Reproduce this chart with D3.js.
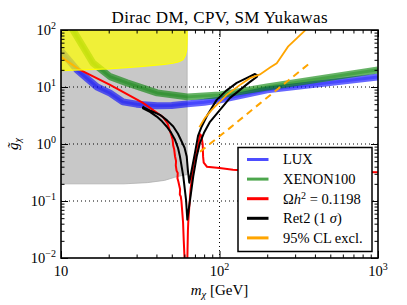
<!DOCTYPE html>
<html>
<head>
<meta charset="utf-8">
<script src="https://cdn.jsdelivr.net/npm/d3@7"></script>
<style>
body { margin: 0; background: #fff; }
</style>
</head>
<body>
<svg id="chart" width="407" height="305"></svg>
<script>
'use strict';

/* global d3 */

// excluded by invisible Higgs width (grey) and by direct searches (yellow)
var greyMass = [10, 25, 35, 45, 52, 58, 62.5];
var greyLow = [0.2, 0.2, 0.21, 0.23, 0.26, 0.28, 0.29];

var yellowMass = [10, 20, 31.5, 45, 50.9, 55, 58.8, 61, 62.1, 62.4, 62.5];
var yellowLow = [19.4, 20.8, 22.8, 25, 26.1, 27.5, 30, 36, 45, 60, 100];

// LUX limit
var luxMass = [10, 12.6, 16.9, 20.4, 24.6, 30, 40.4, 50, 62.6, 80, 100.7, 199.6, 1000];
var luxG = [43, 20, 10.0, 7.8, 5.48, 5.0, 4.67, 4.75, 5.06, 5.4, 5.94, 8.9, 15.0];

// XENON100 limit
var xenonMass = [11.0, 11.9, 15.9, 20.4, 26.1, 40.4, 62.6, 100.7, 199.6, 1000];
var xenonG = [150, 100, 26.4, 15.2, 11.8, 7.88, 6.71, 7.27, 10.0, 20.0];

// relic density
var relicMass = [10, 13.2, 20.4, 32.9, 43.9, 47, 49.9, 50.6, 51, 51.8, 52.4, 53.2, 53.0, 53.6, 54.5, 54.3,
	55, 56.4, 56.2, 57, 57.5, 58.2, 58.9, 59.5, 60.4, 62.6, 63.2, 63.5, 64.5, 65.7, 67, 68.4, 70, 71.8, 73.5,
	75.5, 77, 78.3, 78.8, 79.5, 83.3, 100, 121.5, 150, 1000];
var relicG = [33.7, 19.9, 10.9, 5.27, 2.99, 2.3, 1.37, 1.2, 0.95, 0.8, 0.61, 0.5, 0.42, 0.34, 0.31, 0.25,
	0.22, 0.16, 0.13, 0.12, 0.1, 0.065, 0.042, 0.02, 0.008, 0.008, 0.03, 0.042, 0.08, 0.16, 0.26, 0.41, 0.55,
	0.71, 1.0, 1.47, 1.4, 1.0, 0.6, 0.47, 0.40, 0.38, 0.355, 0.34, 0.32];

// Ret2 1 sigma contour (closed loop)
var ret2Mass = [32.9, 32.9, 36.4, 40.2, 43.4, 46.4, 49.4, 52.4, 54.7, 56.3, 59.1, 61.5, 62.65,
	65.2, 68.3, 71.8, 75.3, 79.8, 87.1, 100.7, 116.5, 134.7, 155.7, 171.7, 173.7,
	167.5, 149.1, 128.4, 109.9, 96.0, 83.4, 77.2, 73.2, 70.0, 66.8, 64.5,
	63.3, 62.1, 60.2, 57.7, 54.7, 51.1, 46.7, 42.1, 36.4, 33.2, 32.9];
var ret2G = [4.57, 4.22, 3.66, 3.03, 2.50, 2.03, 1.60, 1.185, 0.858, 0.604, 0.270, 0.105, 0.047,
	0.105, 0.270, 0.604, 1.05, 1.57, 2.45, 3.97, 6.44, 8.90, 12.3, 15.0, 16.0,
	16.9, 14.4, 11.8, 8.55, 5.94, 3.12, 2.03, 1.39, 0.70, 0.353, 0.209,
	0.326, 0.604, 0.858, 1.106, 1.51, 2.03, 2.60, 3.25, 3.89, 4.39, 4.57];

// 95% CL exclusion, solid and dashed
var exclMass = [74.6, 81.0, 89.3, 111.1, 134.7, 155.7, 180.1, 208.3, 229.6, 246.9, 270.5, 306.9, 346.2, 352];
var exclG = [1.977, 2.88, 3.97, 7.27, 10.9, 14.3, 16.6, 22.0, 26.1, 35.1, 51.0, 71.5, 98.0, 110];
var exclDashMass = [75.3, 116.5, 180.1, 372.4];
var exclDashG = [0.73, 1.92, 5.16, 26.4];

var xMajor = [10, 100, 1000];
var xLabelExp = [null, '2', '3'];
var yMajor = [0.01, 0.1, 1, 10, 100];
var yLabelExp = ['\u22122', '\u22121', '0', '1', '2'];

var legendNames = ['LUX', 'XENON100', 'relic', 'ret2', 'excl'];

var serif = 'Liberation Serif';

function zip(a, b) {
	return a.map(function (d, i) {
		return [d, b[i]];
	});
}

function minorTicks(lo, hi) {
	var out = [];
	for (var dec = lo; dec < hi; dec *= 10) {
		for (var k = 2; k <= 9; k++) {
			out.push(dec * k);
		}
	}
	return out;
}

var margins = { left: 61, top: 30, right: 29, bottom: 47 };
var graphWidth = 407 - margins.left - margins.right;
var graphHeight = 305 - margins.top - margins.bottom;

var svg = d3.select('#chart');

svg.append('text').attr('x', margins.left + graphWidth / 2).attr('y', 23).attr('text-anchor', 'middle')
	.attr('font-family', serif).attr('font-size', 17).attr('textLength', 216).attr('lengthAdjust', 'spacing')
	.text('Dirac DM, CPV, SM Yukawas');

svg.append('defs').append('clipPath').attr('id', 'plotclip').append('rect')
	.attr('width', graphWidth).attr('height', graphHeight);

var g = svg.append('g').attr('transform', 'translate(' + margins.left + ',' + margins.top + ')');
var plot = g.append('g').attr('clip-path', 'url(#plotclip)');

var x = d3.scaleLog().domain([10, 1000]).range([0, graphWidth]);
var y = d3.scaleLog().domain([0.01, 100]).range([graphHeight, 0]);

var line = d3.line().x(function (d) {
	return x(d[0]);
}).y(function (d) {
	return y(d[1]);
});

var areaFromTop = d3.area().x(function (d) {
	return x(d[0]);
}).y0(-5).y1(function (d) {
	return y(d[1]);
});

// grey region
plot.append('path').datum(zip(greyMass, greyLow)).attr('d', areaFromTop)
	.attr('fill', '#c8c8c8').attr('stroke', '#b0b0b0').attr('stroke-width', 0.8);

// grid
plot.selectAll('line.gridx').data([100]).enter().append('line').attr('class', 'gridx')
	.attr('x1', function (d) { return x(d); }).attr('x2', function (d) { return x(d); })
	.attr('y1', 0).attr('y2', graphHeight)
	.attr('stroke', '#000').attr('stroke-width', 1).attr('stroke-dasharray', '1,3');
plot.selectAll('line.gridy').data([0.1, 1, 10]).enter().append('line').attr('class', 'gridy')
	.attr('y1', function (d) { return y(d); }).attr('y2', function (d) { return y(d); })
	.attr('x1', 0).attr('x2', graphWidth)
	.attr('stroke', '#000').attr('stroke-width', 1).attr('stroke-dasharray', '1,3');

function band(data, colour) {
	plot.append('path').datum(data).attr('d', line).attr('fill', 'none')
		.attr('stroke', colour).attr('stroke-width', 7).attr('stroke-opacity', 0.6)
		.attr('stroke-linejoin', 'round');
	plot.append('path').datum(data).attr('d', line).attr('fill', 'none')
		.attr('stroke', colour).attr('stroke-width', 3).attr('stroke-opacity', 0.3)
		.attr('stroke-linejoin', 'round');
}

band(zip(luxMass, luxG), '#0000ff');
band(zip(xenonMass, xenonG), '#008000');

plot.append('path').datum(zip(relicMass, relicG)).attr('d', line).attr('fill', 'none')
	.attr('stroke', '#ff0000').attr('stroke-width', 2);

// yellow region on top (semi-transparent)
plot.append('path').datum(zip(yellowMass, yellowLow)).attr('d', areaFromTop)
	.attr('fill', '#ffff00').attr('fill-opacity', 0.72)
	.attr('stroke', '#ffff00').attr('stroke-width', 1.2);

plot.append('path').datum(zip(ret2Mass, ret2G)).attr('d', line).attr('fill', 'none')
	.attr('stroke', '#000').attr('stroke-width', 2).attr('stroke-linejoin', 'round');

plot.append('path').datum(zip(exclMass, exclG)).attr('d', line).attr('fill', 'none')
	.attr('stroke', '#ffa500').attr('stroke-width', 1.8);
plot.append('path').datum(zip(exclDashMass, exclDashG)).attr('d', line).attr('fill', 'none')
	.attr('stroke', '#ffa500').attr('stroke-width', 2).attr('stroke-dasharray', '7,5');

// ticks on all four sides, pointing in
function drawTicks(axisFn, scale, values, size, transform) {
	var ax = g.append('g').attr('transform', transform)
		.call(axisFn(scale).tickValues(values).tickSize(size).tickFormat(''));
	ax.select('.domain').remove();
	ax.selectAll('line').attr('stroke', '#000').attr('stroke-width', 1);
}

var xMinor = minorTicks(10, 1000);
var yMinor = minorTicks(0.01, 100);
drawTicks(d3.axisBottom, x, xMajor, -7, 'translate(0,' + graphHeight + ')');
drawTicks(d3.axisBottom, x, xMinor, -3.5, 'translate(0,' + graphHeight + ')');
drawTicks(d3.axisTop, x, xMajor, -7, 'translate(0,0)');
drawTicks(d3.axisTop, x, xMinor, -3.5, 'translate(0,0)');
drawTicks(d3.axisLeft, y, yMajor, -7, 'translate(0,0)');
drawTicks(d3.axisLeft, y, yMinor, -3.5, 'translate(0,0)');
drawTicks(d3.axisRight, y, yMajor, -7, 'translate(' + graphWidth + ',0)');
drawTicks(d3.axisRight, y, yMinor, -3.5, 'translate(' + graphWidth + ',0)');

g.append('rect').attr('width', graphWidth).attr('height', graphHeight)
	.attr('fill', 'none').attr('stroke', '#000').attr('stroke-width', 1.6);

// tick labels
function powLabel(sel, exp) {
	sel.append('tspan').text('10');
	if (exp !== null) {
		sel.append('tspan').attr('dy', -6).attr('font-size', 10).text(exp);
	}
}

xMajor.forEach(function (v, i) {
	var t = g.append('text').attr('x', x(v)).attr('y', graphHeight + 18)
		.attr('text-anchor', 'middle').attr('font-family', serif).attr('font-size', 14.5);
	powLabel(t, xLabelExp[i]);
});

yMajor.forEach(function (v, i) {
	var t = g.append('text').attr('x', -5).attr('y', y(v) + 5)
		.attr('text-anchor', 'end').attr('font-family', serif).attr('font-size', 14.5);
	powLabel(t, yLabelExp[i]);
});

// axis titles
var xTitle = svg.append('text').attr('x', margins.left + graphWidth / 2).attr('y', 295)
	.attr('text-anchor', 'middle').attr('font-family', serif).attr('font-size', 15);
xTitle.append('tspan').attr('font-style', 'italic').text('m');
xTitle.append('tspan').attr('dy', 3).attr('font-size', 10.5).attr('font-style', 'italic').text('\u03c7');
xTitle.append('tspan').attr('dy', -3).text(' [GeV]');

var yTitle = svg.append('text').attr('transform', 'translate(18,' + 144 + ') rotate(-90)')
	.attr('text-anchor', 'middle').attr('font-family', serif).attr('font-size', 15);
yTitle.append('tspan').attr('font-style', 'italic').text('g\u0303');
yTitle.append('tspan').attr('dy', 3).attr('font-size', 10.5).attr('font-style', 'italic').text('\u03c7');

// legend
var legend = svg.append('g').attr('transform', 'translate(238,147.5)');
legend.append('rect').attr('width', 134).attr('height', 104).attr('fill', '#fff')
	.attr('stroke', '#000').attr('stroke-width', 1.5);

var legendColours = { LUX: '#4d4dff', XENON100: '#4da64d', relic: '#ff0000', ret2: '#000', excl: '#ffa500' };

legendNames.forEach(function (name, i) {
	var cy = 12 + i * 19.6;
	legend.append('line').attr('x1', 9).attr('x2', 30.5).attr('y1', cy).attr('y2', cy)
		.attr('stroke', legendColours[name]).attr('stroke-width', 3);
	var t = legend.append('text').attr('x', 45).attr('y', cy + 4.8)
		.attr('font-family', serif).attr('font-size', 14.5);
	if (name === 'relic') {
		t.append('tspan').text('\u03a9');
		t.append('tspan').attr('font-style', 'italic').text('h');
		t.append('tspan').attr('dy', -5).attr('font-size', 10).text('2');
		t.append('tspan').attr('dy', 5).text(' = 0.1198');
	} else if (name === 'ret2') {
		t.append('tspan').text('Ret2 (1 ');
		t.append('tspan').attr('font-style', 'italic').text('\u03c3');
		t.append('tspan').text(')');
	} else if (name === 'excl') {
		t.text('95% CL excl.');
	} else {
		t.text(name);
	}
});
</script>
</body>
</html>
